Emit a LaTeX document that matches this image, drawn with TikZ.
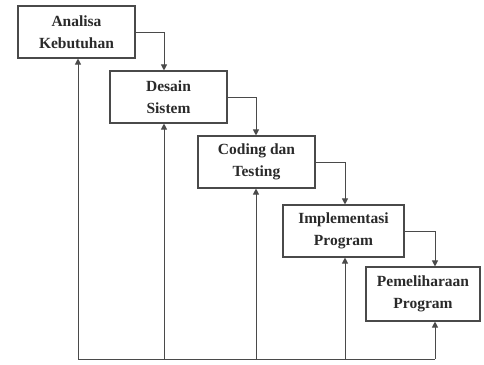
\documentclass[tikz,border=0pt]{standalone}
\usepackage{fontspec}
\setmainfont{Liberation Serif}
\usetikzlibrary{arrows.meta}
\definecolor{linegray}{HTML}{4A4A4A}
\definecolor{txt}{HTML}{2A2A2A}
\tikzset{
  stage/.style={draw=linegray, line width=1.1pt, fill=white, rectangle, align=center,
    inner sep=0pt, minimum height=52pt, text=txt,
    font=\fontsize{15.5}{22}\selectfont\bfseries},
  conn/.style={draw=linegray, line width=1pt},
  arr/.style={conn, -{Triangle[length=6pt,width=6pt]}}
}
\begin{document}
\begin{tikzpicture}[x=1pt,y=-1pt]
\useasboundingbox (0,0) rectangle (484,364);
\node[stage, minimum width=117pt] (a) at (76.5,32) {Analisa\\Kebutuhan};
\node[stage, minimum width=117pt] (b) at (168.5,97) {Desain\\Sistem};
\node[stage, minimum width=117pt] (c) at (256.5,162) {Coding dan\\Testing};
\node[stage, minimum width=121pt] (d) at (343.5,231) {Implementasi\\Program};
\node[stage, minimum width=114pt, minimum height=54pt] (e) at (423,294) {Pemeliharaan\\Program};
\coordinate (f1) at (78,359);
\coordinate (f2) at (164,359);
\coordinate (f3) at (256,359);
\coordinate (f4) at (345,359);
\coordinate (f5) at (435,359);
\draw[arr] (a.east) -| (f2 |- b.north);
\draw[arr] (b.east) -| (f3 |- c.north);
\draw[arr] (c.east) -| (f4 |- d.north);
\draw[arr] (d.east) -| (f5 |- e.north);
\draw[conn] (f1) -- (f5);
\draw[arr] (f1) -- (f1 |- a.south);
\draw[arr] (f2) -- (f2 |- b.south);
\draw[arr] (f3) -- (f3 |- c.south);
\draw[arr] (f4) -- (f4 |- d.south);
\draw[arr] (f5) -- (f5 |- e.south);
\end{tikzpicture}
\end{document}
